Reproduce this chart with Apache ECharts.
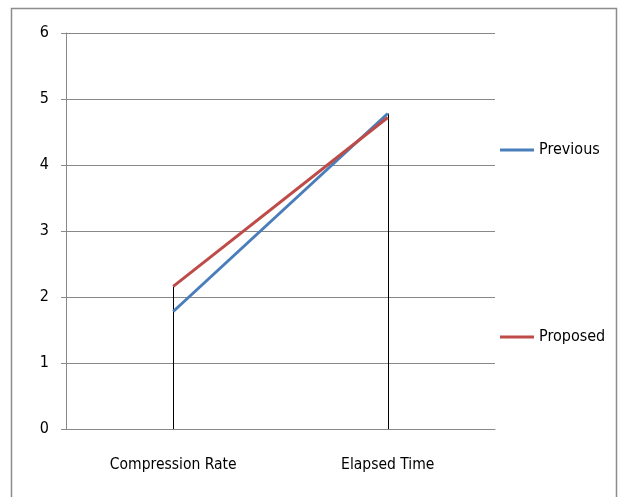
<!DOCTYPE html>
<html><head><meta charset="utf-8">
<script src="https://cdn.jsdelivr.net/npm/echarts@6/dist/echarts.min.js"></script>
<style>html,body{margin:0;padding:0;background:#fff}#c{width:618px;height:497px}</style>
</head><body><div id="c"></div>
<script>
const categories = ["Compression Rate", "Elapsed Time"];
const previous = [1.78, 4.78];
const proposed = [2.16, 4.72];
const yTicks = [0, 1, 2, 3, 4, 5, 6];

const font = '"DejaVu Sans Condensed", "Liberation Sans Narrow", sans-serif';
const chart = echarts.init(document.getElementById('c'), null, {renderer: 'canvas'});
const dropData = categories.map((c, i) => [
  {coord: [i, 0]}, {coord: [i, Math.max(previous[i], proposed[i])]}
]);
chart.setOption({
  animation: false,
  graphic: [{type: 'rect', shape: {x: 11.5, y: 8.5, width: 605, height: 500}, style: {fill: 'none', stroke: '#8c8c8c', lineWidth: 1.5}}],
  grid: {left: 66, right: 123, top: 33, bottom: 68},
  legend: [
    {data: ['Previous'], left: 495, top: 137, itemWidth: 34, itemHeight: 3, itemGap: 3, icon: 'rect',
     textStyle: {fontFamily: font, fontSize: 16, color: '#000'}},
    {data: ['Proposed'], left: 495, top: 324, itemWidth: 34, itemHeight: 3, itemGap: 3, icon: 'rect',
     textStyle: {fontFamily: font, fontSize: 16, color: '#000'}}
  ],
  xAxis: {
    type: 'category', data: categories, boundaryGap: true,
    axisLine: {lineStyle: {color: '#888', width: 1}},
    axisTick: {show: false},
    axisLabel: {fontFamily: font, fontSize: 15.5, color: '#000', margin: 28}
  },
  yAxis: {
    type: 'value', min: 0, max: 6, interval: 1,
    axisLine: {show: true, lineStyle: {color: '#888', width: 1}},
    axisTick: {show: true, length: 5, lineStyle: {color: '#888'}},
    axisLabel: {fontFamily: font, fontSize: 16, color: '#000', margin: 17,
      formatter: v => yTicks.includes(v) ? String(v) : ''},
    splitLine: {lineStyle: {color: '#888', width: 1}}
  },
  series: [
    {name: 'Previous', type: 'line', data: previous, symbol: 'none',
     lineStyle: {color: '#4a7ebb', width: 3}, itemStyle: {color: '#4a7ebb'}, z: 3},
    {name: 'Proposed', type: 'line', data: proposed, symbol: 'none',
     lineStyle: {color: '#be4b48', width: 3}, itemStyle: {color: '#be4b48'}, z: 4,
     markLine: {silent: true, symbol: 'none', label: {show: false},
       lineStyle: {color: '#000', width: 1, type: 'solid'}, data: dropData, z: 1}}
  ]
});
</script></body></html>
